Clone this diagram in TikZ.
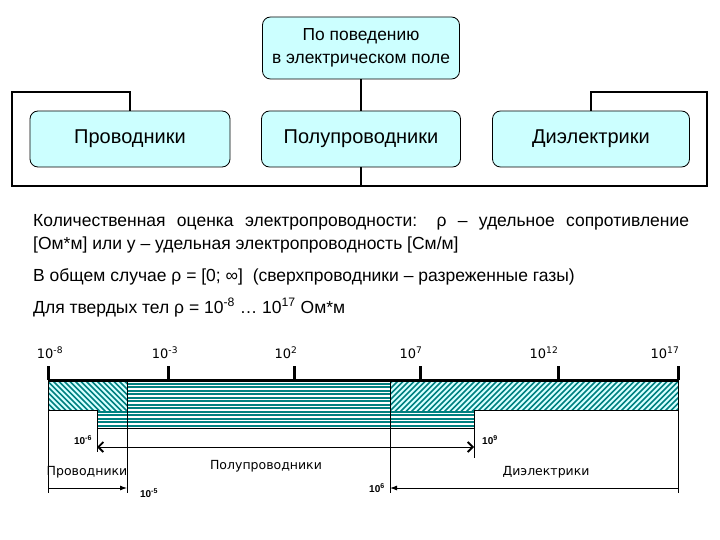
\documentclass[tikz,border=0pt]{standalone}
\usepackage{fontspec}
\setmainfont{Liberation Sans}
\newfontfamily\verdfont{DejaVu Sans}
\usetikzlibrary{arrows.meta}

\definecolor{boxcyan}{RGB}{204,255,255}
\definecolor{hatchteal}{RGB}{0,128,128}
\definecolor{palecyan}{RGB}{215,255,255}

\tikzset{
  classbox/.style={draw, rounded corners=8pt, fill=boxcyan, line width=0.8pt, align=center, inner sep=2pt},
  treeline/.style={line width=2pt},
  axisline/.style={line width=3pt},
  guide/.style={line width=0.9pt},
  ticklabel/.style={font=\verdfont\fontsize{13}{15}\selectfont, inner sep=0pt, anchor=base},
  zonelabel/.style={font=\verdfont\fontsize{12.5}{15}\selectfont, inner sep=0pt},
  limitlabel/.style={font=\bfseries\fontsize{10}{12}\selectfont, inner sep=0pt},
  textline/.style={font=\fontsize{17.5}{21}\selectfont, inner sep=0pt, anchor=base west},
}

\begin{document}
\begin{tikzpicture}[x=1pt, y=-1pt]
    \useasboundingbox (0,0) rectangle (720,540);

    % Classification tree
    \node[classbox, minimum width=197pt, minimum height=62pt, font=\fontsize{17.4}{23}\selectfont] (field) at (361,48) {По поведению\\в электрическом поле};
    \node[classbox, minimum width=200pt, minimum height=56pt, font=\fontsize{20}{24}\selectfont] (cond) at (130,139) {Проводники};
    \node[classbox, minimum width=199pt, minimum height=56pt, font=\fontsize{20}{24}\selectfont] (semi) at (361,139) {Полупроводники};
    \node[classbox, minimum width=197pt, minimum height=56pt, font=\fontsize{20}{24}\selectfont] (diel) at (591,139) {Диэлектрики};

    \coordinate (frameTL) at (12,92);
    \coordinate (frameTR) at (707,92);
    \coordinate (frameBL) at (12,186);
    \coordinate (frameBR) at (707,186);

    \draw[treeline] (field.south) -- (semi.north);
    \draw[treeline] (semi.south) -- (semi.south |- frameBL);
    \draw[treeline] (cond.north) -- (cond.north |- frameTL) -- (frameTL) -- (frameBL)
        -- (frameBR) -- (frameTR) -- (diel.north |- frameTR) -- (diel.north);

    % Text
    \node[textline] (txtA) at (33,226) {\makebox[656pt][s]{Количественная оценка электропроводности: ρ – удельное сопротивление}};
    \node[textline] (txtB) at (33,249) {[Ом*м] или у – удельная электропроводность [См/м]};
    \node[textline] (txtC) at (33,281) {В общем случае ρ = [0; ∞]\ \ (сверхпроводники – разреженные газы)};
    \node[textline] (txtD) at (33,313) {Для твердых тел ρ = 10\textsuperscript{-8} … 10\textsuperscript{17} Ом*м};

    % Striped zone (semiconductors)
    \begin{scope}
        \clip (127,380) -- (390,380) -- (390,410) -- (474,410) -- (474,428) -- (97,428) -- (97,410) -- (127,410) -- cycle;
        \fill[hatchteal] (90,375) rectangle (480,430);
        \foreach \y in {382,385.5,...,428} {
            \draw[white, line width=1.2pt] (90,\y) -- (480,\y);
        }
    \end{scope}

    % Hatched zones (conductors, dielectrics)
    \begin{scope}
        \clip (48,380) rectangle (127,410);
        \fill[palecyan] (48,380) rectangle (127,410);
        \foreach \x in {0,5.5,...,132} {
            \draw[hatchteal, line width=1.6pt] (\x,372) -- ++(45,45);
        }
    \end{scope}
    \begin{scope}
        \clip (390,380) rectangle (678,410);
        \fill[palecyan] (390,380) rectangle (678,410);
        \foreach \x in {340,345.5,...,680} {
            \draw[hatchteal, line width=1.6pt] (\x,417) -- ++(45,-45);
        }
    \end{scope}

    % Outlines and guide lines
    \draw[guide] (48,410) -- (97,410);
    \draw[guide] (474,410) -- (678,410);
    \draw[guide] (97,428) -- (474,428);
    \draw[guide] (48,380) -- (48,493);
    \draw[guide] (127,380) -- (127,493);
    \draw[guide] (390,380) -- (390,493);
    \draw[guide] (678,380) -- (678,493);
    \draw[guide] (97,410) -- (97,452);
    \draw[guide] (474,410) -- (474,458);

    % Scale axis and ticks
    \draw[axisline] (48,380) -- (678,380);
    \foreach \x in {48,168,294,420,558,678} {
        \draw[axisline] (\x,366) -- (\x,380);
    }
    \node[ticklabel] (tA) at (50,358) {10\textsuperscript{-8}};
    \node[ticklabel] (tB) at (165,358) {10\textsuperscript{-3}};
    \node[ticklabel] (tC) at (286,358) {10\textsuperscript{2}};
    \node[ticklabel] (tD) at (411,358) {10\textsuperscript{7}};
    \node[ticklabel] (tE) at (544,358) {10\textsuperscript{12}};
    \node[ticklabel] (tF) at (665,358) {10\textsuperscript{17}};

    % Ranges
    \coordinate (condL) at (48,488);
    \coordinate (condR) at (127,488);
    \coordinate (semiL) at (97,447);
    \coordinate (semiR) at (474,447);
    \coordinate (dielL) at (390,488);
    \coordinate (dielR) at (678,488);

    \draw[guide, -{Latex[length=7pt,width=5pt]}] (condL) -- (condR);
    \draw[guide, {Straight Barb[length=5pt,width=10pt,line width=1.8pt]}-{Straight Barb[length=5pt,width=10pt,line width=1.8pt]}] (semiL) -- (semiR);
    \draw[guide, -{Latex[length=7pt,width=5pt]}] (dielR) -- (dielL);

    \node[zonelabel] (lcond) at (87,472) {Проводники};
    \node[zonelabel] (lsemi) at (266,466) {Полупроводники};
    \node[zonelabel] (ldiel) at (546,472) {Диэлектрики};

    \node[limitlabel] (bA) at (83,440) {10\textsuperscript{-6}};
    \node[limitlabel] (bB) at (490,440) {10\textsuperscript{9}};
    \node[limitlabel] (bC) at (149,493) {10\textsuperscript{-5}};
    \node[limitlabel] (bD) at (377,488) {10\textsuperscript{6}};
\end{tikzpicture}
\end{document}
